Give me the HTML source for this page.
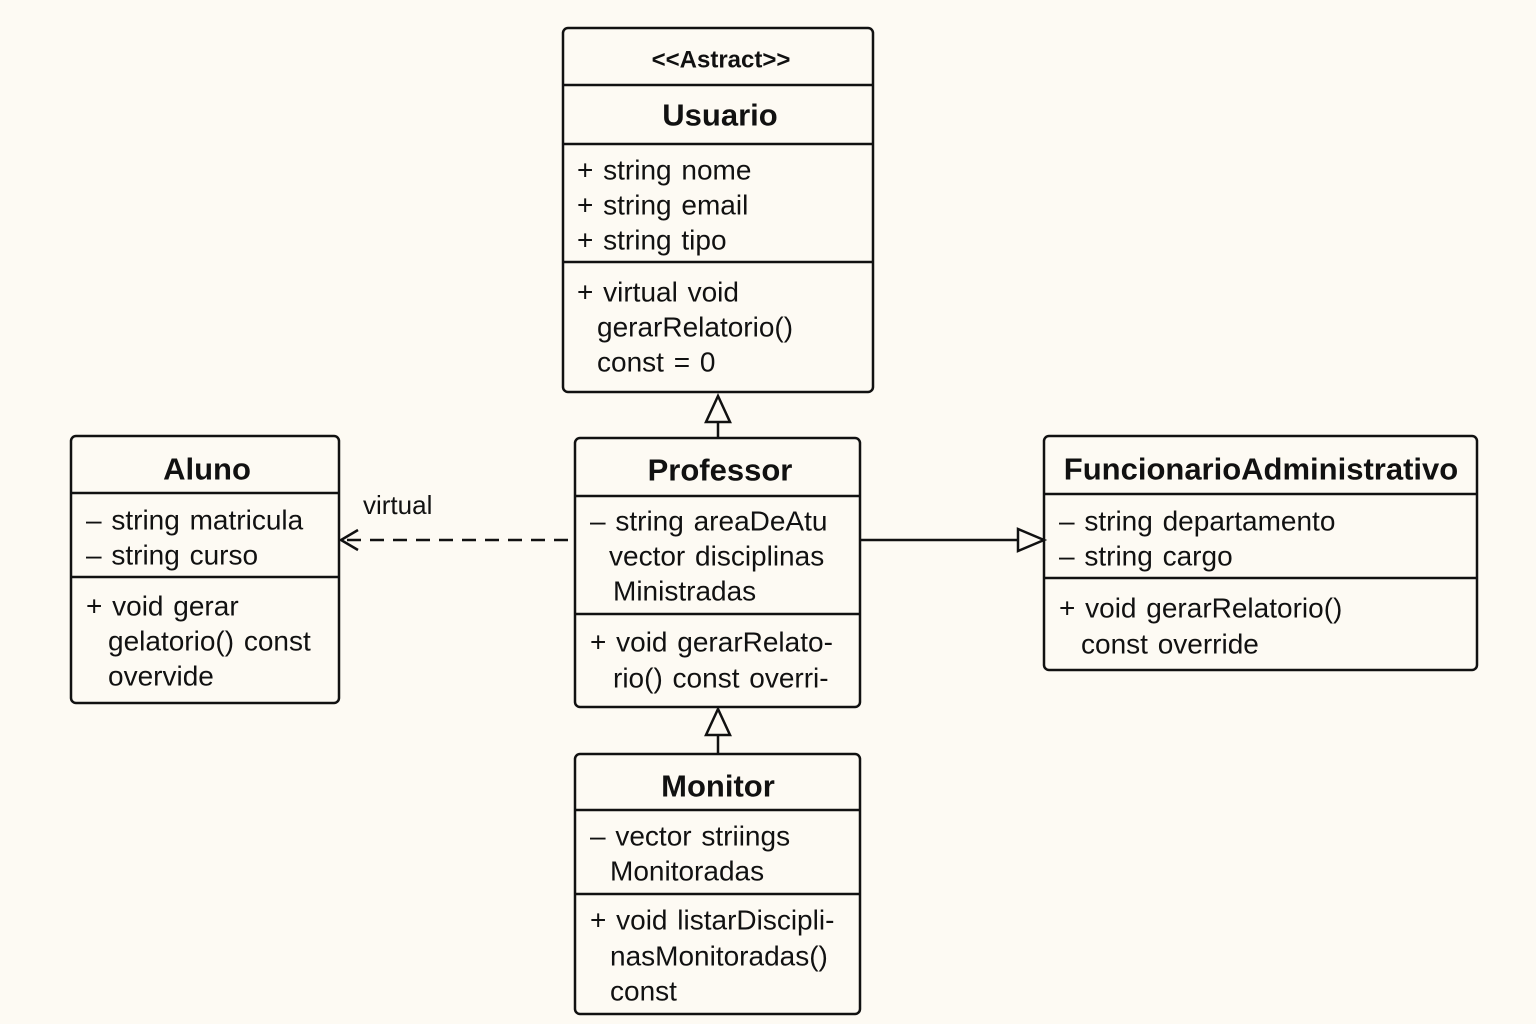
<!DOCTYPE html>
<html><head><meta charset="utf-8"><style>
html,body{margin:0;padding:0;background:#fdfaf3;}
svg{display:block;font-family:"Liberation Sans",sans-serif;}
text{fill:#111;dominant-baseline:central;}
.t{font-weight:bold;font-size:31px;text-anchor:middle;}
.a{font-size:28px;word-spacing:2px;}
.box{fill:none;stroke:#111;stroke-width:2.5;}
.ln{stroke:#111;stroke-width:2.5;}
</style></head><body>
<svg width="1536" height="1024" viewBox="0 0 1536 1024">
<rect width="1536" height="1024" fill="#fdfaf3"/>

<g>
<rect class="box" x="563" y="28" width="310" height="364" rx="5"/>
<line class="ln" x1="563" y1="85" x2="873" y2="85"/>
<line class="ln" x1="563" y1="144" x2="873" y2="144"/>
<line class="ln" x1="563" y1="262" x2="873" y2="262"/>
<text x="721" y="60" style="font-size:24px;font-weight:600;text-anchor:middle">&lt;&lt;Astract&gt;&gt;</text>
<text class="t" x="720" y="115">Usuario</text>
<text class="a" x="577" y="170">+ string  nome</text>
<text class="a" x="577" y="205">+ string  email</text>
<text class="a" x="577" y="240">+ string  tipo</text>
<text class="a" x="577" y="292">+ virtual void</text>
<text class="a" x="597" y="327">gerarRelatorio()</text>
<text class="a" x="597" y="362">const = 0</text>
</g>

<g>
<rect class="box" x="71" y="436" width="268" height="267" rx="5"/>
<line class="ln" x1="71" y1="493" x2="339" y2="493"/>
<line class="ln" x1="71" y1="577" x2="339" y2="577"/>
<text class="t" x="207" y="469">Aluno</text>
<text class="a" x="86" y="520">– string matricula</text>
<text class="a" x="86" y="555">– string  curso</text>
<text class="a" x="86" y="606">+ void gerar</text>
<text class="a" x="108" y="641">gelatorio() const</text>
<text class="a" x="108" y="676">overvide</text>
</g>

<g>
<rect class="box" x="575" y="438" width="285" height="269" rx="5"/>
<line class="ln" x1="575" y1="496" x2="860" y2="496"/>
<line class="ln" x1="575" y1="614" x2="860" y2="614"/>
<text class="t" x="720" y="470">Professor</text>
<text class="a" x="590" y="521">– string areaDeAtu</text>
<text class="a" x="609" y="556">vector disciplinas</text>
<text class="a" x="613" y="591">Ministradas</text>
<text class="a" x="590" y="642">+ void gerarRelato-</text>
<text class="a" x="613" y="678">rio() const overri-</text>
</g>

<g>
<rect class="box" x="1044" y="436" width="433" height="234" rx="5"/>
<line class="ln" x1="1044" y1="494" x2="1477" y2="494"/>
<line class="ln" x1="1044" y1="578" x2="1477" y2="578"/>
<text class="t" x="1261" y="469">FuncionarioAdministrativo</text>
<text class="a" x="1059" y="521">– string  departamento</text>
<text class="a" x="1059" y="556">– string  cargo</text>
<text class="a" x="1059" y="608">+ void gerarRelatorio()</text>
<text class="a" x="1081" y="644">const override</text>
</g>

<g>
<rect class="box" x="575" y="754" width="285" height="260" rx="5"/>
<line class="ln" x1="575" y1="810" x2="860" y2="810"/>
<line class="ln" x1="575" y1="894" x2="860" y2="894"/>
<text class="t" x="718" y="786">Monitor</text>
<text class="a" x="590" y="836">– vector striings</text>
<text class="a" x="610" y="871">Monitoradas</text>
<text class="a" x="590" y="920">+ void listarDiscipli-</text>
<text class="a" x="610" y="956">nasMonitoradas()</text>
<text class="a" x="610" y="991">const</text>
</g>

<g>
<line class="ln" x1="718" y1="438" x2="718" y2="422"/>
<polygon points="718,396 706,422 730,422" fill="#fdfaf3" stroke="#111" stroke-width="2.5"/>
</g>
<g>
<line class="ln" x1="718" y1="754" x2="718" y2="735"/>
<polygon points="718,709 706,735 730,735" fill="#fdfaf3" stroke="#111" stroke-width="2.5"/>
</g>
<g>
<line class="ln" x1="860" y1="540" x2="1018" y2="540"/>
<polygon points="1044,540 1018,529 1018,551" fill="#fdfaf3" stroke="#111" stroke-width="2.5"/>
</g>
<g>
<line class="ln" x1="568" y1="540" x2="342" y2="540" stroke-dasharray="14,9"/>
<polyline points="358,530 341,540 358,550" fill="none" stroke="#111" stroke-width="2.5"/>
<text x="363" y="505" style="font-size:26px">virtual</text>
</g>
</svg>
</body></html>
